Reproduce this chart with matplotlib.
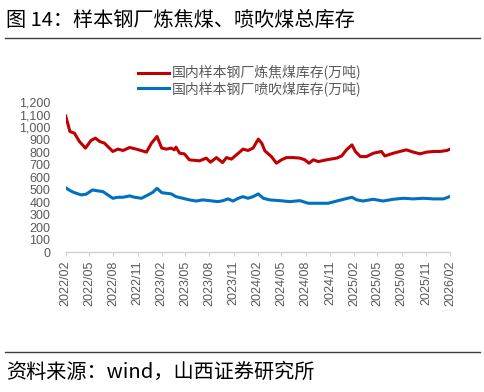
import matplotlib
matplotlib.use("Agg")
import matplotlib.pyplot as plt
import matplotlib.dates as mdates
import pandas as pd

plt.rcParams['font.family'] = ['Noto Sans CJK SC', 'DejaVu Sans']

title = "图 14：样本钢厂炼焦煤、喷吹煤总库存"
source = "资料来源：wind，山西证券研究所"
label_coking = "国内样本钢厂炼焦煤库存(万吨)"
label_pci = "国内样本钢厂喷吹煤库存(万吨)"

coking_dates = [
    "2022-02-01", "2022-02-17", "2022-03-06", "2022-03-25", "2022-04-17", "2022-05-08",
    "2022-05-25", "2022-06-10", "2022-06-28", "2022-07-30", "2022-08-18", "2022-09-07",
    "2022-10-02", "2022-10-27", "2022-12-05", "2022-12-24", "2023-01-14", "2023-02-01",
    "2023-02-19", "2023-03-09", "2023-03-21", "2023-03-27", "2023-04-10", "2023-04-28",
    "2023-05-17", "2023-06-25", "2023-07-20", "2023-08-05", "2023-08-28", "2023-09-20",
    "2023-10-05", "2023-10-24", "2023-11-19", "2023-12-07", "2023-12-26", "2024-01-14",
    "2024-02-03", "2024-02-16", "2024-02-28", "2024-03-24", "2024-04-12", "2024-05-01",
    "2024-05-20", "2024-06-14", "2024-07-10", "2024-07-29", "2024-08-14", "2024-08-30",
    "2024-09-18", "2024-10-19", "2024-11-27", "2024-12-16", "2025-01-03", "2025-01-24",
    "2025-02-06", "2025-02-25", "2025-03-20", "2025-04-15", "2025-05-16", "2025-05-29",
    "2025-06-30", "2025-07-25", "2025-08-19", "2025-09-14", "2025-10-10", "2025-11-04",
    "2025-11-30", "2025-12-25", "2026-01-20", "2026-02-04",
]
coking_stock = [
    1090, 966, 953, 886, 833, 894,
    913, 886, 873, 806, 825, 814,
    838, 825, 801, 873, 926, 833,
    825, 833, 819, 841, 792, 787,
    739, 731, 753, 720, 757, 717,
    757, 745, 792, 825, 814, 833,
    905, 873, 811, 765, 712, 739,
    757, 757, 753, 739, 712, 739,
    725, 739, 753, 770, 819, 859,
    806, 765, 765, 792, 806, 770,
    792, 806, 819, 801, 787, 801,
    806, 806, 814, 828,
]

pci_dates = [
    "2022-02-01", "2022-02-17", "2022-03-06", "2022-04-01", "2022-04-19", "2022-05-14",
    "2022-06-03", "2022-06-22", "2022-07-11", "2022-07-30", "2022-08-18", "2022-09-07",
    "2022-10-02", "2022-10-21", "2022-11-16", "2022-12-11", "2022-12-30", "2023-01-14",
    "2023-02-01", "2023-02-19", "2023-03-09", "2023-03-27", "2023-04-22", "2023-05-17",
    "2023-06-12", "2023-07-07", "2023-08-02", "2023-09-03", "2023-09-22", "2023-10-11",
    "2023-10-30", "2023-11-19", "2023-12-07", "2023-12-26", "2024-01-14", "2024-02-03",
    "2024-02-22", "2024-03-17", "2024-04-25", "2024-06-02", "2024-07-10", "2024-08-11",
    "2024-09-18", "2024-10-26", "2024-11-27", "2024-12-29", "2025-01-24", "2025-02-12",
    "2025-03-07", "2025-04-15", "2025-05-22", "2025-06-30", "2025-08-07", "2025-09-14",
    "2025-10-22", "2025-11-30", "2026-01-07", "2026-02-04",
]
pci_stock = [
    515, 493, 476, 458, 463, 498,
    490, 485, 458, 431, 439, 439,
    450, 439, 431, 458, 480, 511,
    476, 471, 466, 444, 431, 418,
    409, 418, 412, 404, 412, 426,
    409, 431, 444, 431, 444, 466,
    431, 418, 412, 404, 412, 391,
    391, 391, 409, 426, 439, 418,
    409, 423, 409, 423, 431, 426,
    431, 426, 426, 448,
]

fig = plt.figure(figsize=(4.85, 3.92), dpi=100)
ax = fig.add_axes([0.1355, 0.357, 0.7925, 0.382])

ax.plot(pd.to_datetime(coking_dates), coking_stock, color="#C00000", lw=2.2, label=label_coking)
ax.plot(pd.to_datetime(pci_dates), pci_stock, color="#0070C0", lw=2.2, label=label_pci)

ax.set_ylim(0, 1200)
ax.set_yticks(range(0, 1201, 100))
ax.set_yticklabels([f"{v:,}" for v in range(0, 1201, 100)])
ax.set_xlim(pd.Timestamp("2022-02-01"), pd.Timestamp("2026-02-01"))
ax.xaxis.set_major_locator(mdates.MonthLocator(bymonth=[2, 5, 8, 11]))
ax.xaxis.set_major_formatter(mdates.DateFormatter("%Y/%m"))

for s in ["top", "right", "left"]:
    ax.spines[s].set_visible(False)
ax.spines["bottom"].set_color("#d0d0d0")
ax.spines["bottom"].set_linewidth(1.0)
ax.tick_params(axis="y", length=0, pad=11, labelsize=9, labelcolor="#595959")
ax.tick_params(axis="x", length=3, color="#d0d0d0", pad=3, labelsize=9,
               labelcolor="#595959", labelrotation=90)
for lab in ax.get_yticklabels() + ax.get_xticklabels():
    lab.set_family(["Liberation Sans", "DejaVu Sans"])

ax.legend(loc="lower center", bbox_to_anchor=(0.478, 1.005), frameon=False, fontsize=10,
          labelcolor="#595959", handlelength=2.2, handletextpad=0.2, labelspacing=0.05,
          borderaxespad=0)

fig.text(0.012, 0.948, title, fontsize=14.5, color="black", va="center")
fig.add_artist(plt.Line2D([0.01, 0.99], [0.903, 0.903], color="#404040", lw=1.0))
fig.add_artist(plt.Line2D([0.01, 0.99], [0.102, 0.102], color="#404040", lw=1.0))
fig.text(0.012, 0.05, source, fontsize=14.5, color="black", va="center")

fig.savefig("out.png", dpi=100)
